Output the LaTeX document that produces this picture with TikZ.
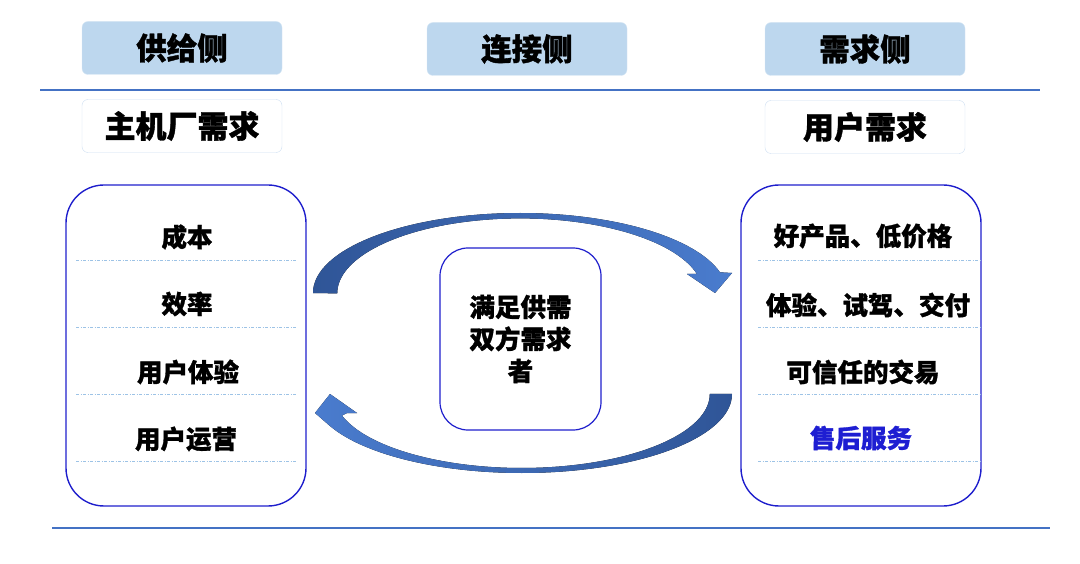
\documentclass[tikz,border=0pt]{standalone}
\usepackage{fontspec}
\setmainfont{Noto Sans CJK SC}[BoldFeatures={FakeBold=1.2}]
\usetikzlibrary{arrows.meta,positioning}
\definecolor{headfill}{RGB}{189,215,238}
\definecolor{headline}{RGB}{214,230,244}
\definecolor{softline}{RGB}{205,222,242}
\definecolor{boxblue}{RGB}{30,30,204}
\definecolor{rulecol}{RGB}{68,114,196}
\definecolor{sepcol}{RGB}{157,195,230}
\definecolor{arrdark}{RGB}{47,85,151}
\definecolor{arrlight}{RGB}{74,124,206}
\definecolor{servblue}{RGB}{30,30,210}

\begin{document}
\begin{tikzpicture}[x=1pt,y=-1pt,
 head/.style={draw=headline,fill=headfill,rounded corners=6pt,minimum width=200pt,minimum height=53pt,font=\fontsize{30.5}{34}\selectfont\bfseries},
 need/.style={draw=softline,fill=white,rounded corners=6pt,minimum width=200pt,minimum height=53pt,font=\fontsize{31}{34}\selectfont\bfseries},
 panel/.style={draw=boxblue,line width=1.4pt,rounded corners=38pt,minimum width=240pt,minimum height=321pt},
 item/.style={font=\fontsize{25.5}{28}\selectfont\bfseries},
 sep/.style={draw=sepcol,line width=0.8pt,dash pattern=on 3pt off 1.5pt on 1pt off 1.5pt}]
\useasboundingbox (0,0) rectangle (1080,564);
% headers
\node[head] (supply) at (182,48) {供给侧};
\node[head] (link) at (527,49) {连接侧};
\node[head] (demand) at (865,49) {需求侧};
\draw[rulecol,line width=1.5pt] (40,90) -- (1040,90);
\draw[rulecol,line width=1.5pt] (52,528) -- (1050,528);
\node[need] (oem) at (182,126) {主机厂需求};
\node[need] (user) at (865,127) {用户需求};
% panels
\node[panel] (lpanel) at (186,345.5) {};
\node[panel] (rpanel) at (861,345.5) {};
\node[draw=boxblue,line width=1.2pt,rounded corners=28pt,minimum width=161pt,minimum height=182pt,
 align=center,font=\fontsize{25.5}{32}\selectfont\bfseries] (mid) at (520.5,339) {满足供需\\双方需求\\者};
\foreach \y in {260,327,394,461} {
 \draw[sep] (76,\y) -- (296,\y);
 \draw[sep] (758,\y) -- (980,\y);
}
\node[item] (cost) at (187,237) {成本};
\node[item] (eff) at (187,304) {效率};
\node[item] (ux) at (188,372) {用户体验};
\node[item] (ops) at (186,439) {用户运营};
\node[item] (good) at (863,236) {好产品、低价格};
\node[item] (drive) at (868,305) {体验、试驾、交付};
\node[item] (trust) at (863,372) {可信任的交易};
\node[item,servblue] (after) at (861,438) {售后服务};
% circular arrows
\fill[left color=arrdark,right color=arrlight] (313,293) arc[start angle=180,end angle=345,x radius=207,y radius=80]
 -- (732,273) -- (715,293) -- (687,274) -- (697,274)
 arc[start angle=345,end angle=180,x radius=183,y radius=75] -- cycle;
\fill[left color=arrlight,right color=arrdark] (732,394) arc[start angle=0,end angle=157,x radius=210,y radius=79]
 -- (315,413) -- (330,394) -- (357,413) -- (347,413) -- (342,415.6)
 arc[start angle=163,end angle=0,x radius=188,y radius=74] -- cycle;
\end{tikzpicture}
\end{document}
